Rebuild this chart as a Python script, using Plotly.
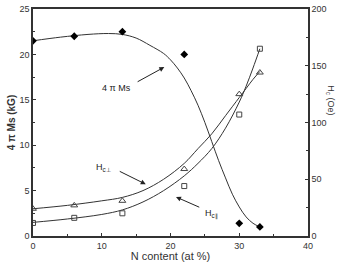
import plotly.graph_objects as go

# measured points
n_pts = [0, 6, 13, 22, 30, 33]
ms_pts = [21.5, 22.0, 22.5, 20.0, 1.4, 1.0]
hc_perp_pts = [24, 27, 31, 59, 125, 144]
hc_par_pts = [11.5, 16, 20, 44, 107, 165]

# fitted curves
ms_fit_x = [0, 4, 8, 11, 13, 15, 17, 19, 20, 21, 22, 23, 24, 25, 26, 27, 28, 29, 30, 31, 32, 33]
ms_fit_y = [21.5, 21.9, 22.2, 22.3, 22.2, 21.8, 21.0, 20.1, 19.4, 18.5, 17.4, 16.0, 14.4, 12.5, 10.4, 8.3, 6.4, 4.6, 3.2, 2.1, 1.4, 1.0]
hc_fit_x = [0, 5, 10, 13, 16, 19, 22, 24, 26, 28, 30, 31, 32, 33]
hc_perp_fit = [24, 27, 31, 34, 40, 50, 64, 77, 90, 106, 122, 130, 138, 145]
hc_par_fit = [12, 15, 19, 23, 30, 40, 53, 64, 77, 95, 118, 132, 148, 165]

x_ticks = [0, 10, 20, 30, 40]
y_ticks = [0, 5, 10, 15, 20, 25]
y2_ticks = [0, 50, 100, 150, 200]

FONT = "Liberation Sans, Arial, sans-serif"
LC = "#333333"

fig = go.Figure()
fig.add_trace(go.Scatter(x=ms_fit_x, y=ms_fit_y, mode="lines", line=dict(color=LC, width=1, shape="spline"), showlegend=False))
fig.add_trace(go.Scatter(x=n_pts, y=ms_pts, mode="markers", marker=dict(symbol="diamond", size=6, color="black"), showlegend=False))
fig.add_trace(go.Scatter(x=hc_fit_x, y=hc_perp_fit, yaxis="y2", mode="lines", line=dict(color=LC, width=1, shape="spline"), showlegend=False))
fig.add_trace(go.Scatter(x=hc_fit_x, y=hc_par_fit, yaxis="y2", mode="lines", line=dict(color=LC, width=1, shape="spline"), showlegend=False))
fig.add_trace(go.Scatter(x=n_pts, y=hc_perp_pts, yaxis="y2", mode="markers", marker=dict(symbol="triangle-up-open", size=6, color="#444", line=dict(width=1)), showlegend=False))
fig.add_trace(go.Scatter(x=n_pts, y=hc_par_pts, yaxis="y2", mode="markers", marker=dict(symbol="square-open", size=5, color="#444", line=dict(width=1)), showlegend=False))

axcommon = dict(showgrid=False, zeroline=False, ticks="inside", ticklen=3, tickcolor="#333", automargin=False,
                linecolor="#333", linewidth=1.5, tickfont=dict(size=9, color="#333", family=FONT))

fig.update_layout(
    width=348, height=262,
    margin=dict(l=33, r=40, t=9, b=26),
    paper_bgcolor="white", plot_bgcolor="white",
    font=dict(family=FONT, color="#333"),
    xaxis=dict(range=[0, 40], tickvals=x_ticks, mirror=True, showline=True,
               title=dict(text="N content (at %)", font=dict(size=11), standoff=2),
               minor=dict(ticks="inside", ticklen=2, tickcolor="#333", dtick=5), **axcommon),
    yaxis=dict(range=[0, 25], tickvals=y_ticks, showline=True,
               title=dict(text="<b>4 π Ms (kG)</b>", font=dict(size=10), standoff=2),
               minor=dict(ticks="inside", ticklen=2, tickcolor="#333", dtick=2.5), **axcommon),
    yaxis2=dict(range=[0, 200], tickvals=y2_ticks, overlaying="y", side="right", showline=True,
                minor=dict(ticks="inside", ticklen=2, tickcolor="#333", dtick=25), **axcommon),
)

ann = []
# right axis title
ann.append(dict(xref="paper", yref="paper", x=1.0, y=0.6, xshift=30, text="H<sub>c</sub> (Oe)", showarrow=False,
                textangle=90, font=dict(size=9, color="#333")))
# labels
ann.append(dict(x=12.2, y=16.3, text="4 π Ms", showarrow=False, font=dict(size=9, color="#222")))
ann.append(dict(x=10.3, y=7.5, text="H<sub>c⊥</sub>", showarrow=False, font=dict(size=9, color="#222")))
ann.append(dict(x=26.0, y=2.4, text="H<sub>c∥</sub>", showarrow=False, font=dict(size=9, color="#222")))
# arrows
for tail, tip in [((15.0, 16.9), (19.1, 18.6)), ((12.4, 7.2), (16.4, 5.7)), ((24.4, 3.1), (20.8, 4.3))]:
    ann.append(dict(x=tip[0], y=tip[1], ax=tail[0], ay=tail[1], xref="x", yref="y", axref="x", ayref="y",
                    text="", showarrow=True, arrowhead=2, arrowsize=1, arrowwidth=1, arrowcolor="#222"))
fig.update_layout(annotations=ann)

fig.write_html("out.html")
